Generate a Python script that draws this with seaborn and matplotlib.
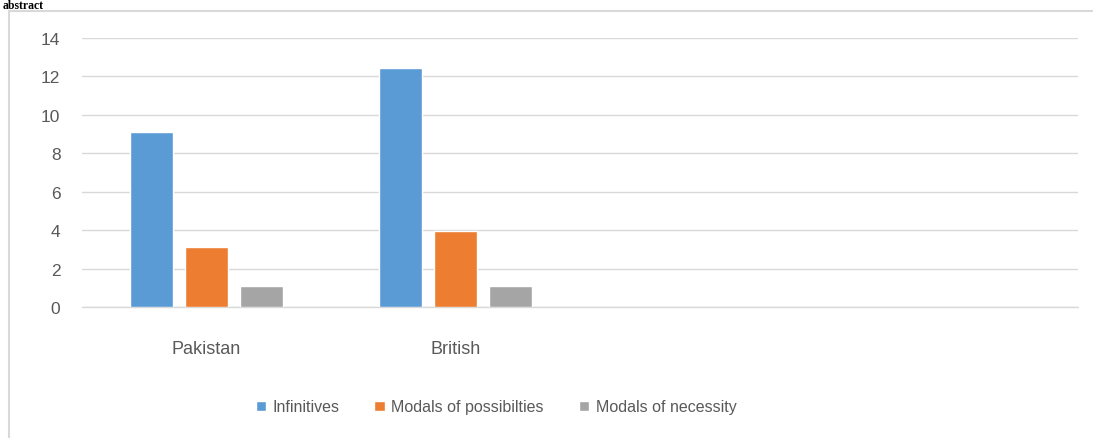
import matplotlib
matplotlib.use("Agg")
import matplotlib.pyplot as plt
import seaborn as sns
import pandas as pd
from matplotlib.patches import Rectangle

categories = ["Pakistan", "British"]
series = ["Infinitives", "Modals of possibilties", "Modals of necessity"]
infinitives = [9.1, 12.45]
modals_possibility = [3.1, 3.95]
modals_necessity = [1.1, 1.1]
colors = ["#5B9BD5", "#ED7D31", "#A5A5A5"]
yticks = [0, 2, 4, 6, 8, 10, 12, 14]

rows = []
for s, vals in zip(series, [infinitives, modals_possibility, modals_necessity]):
    for c, v in zip(categories, vals):
        rows.append({"cat": c, "series": s, "value": v})
df = pd.DataFrame(rows)

sns.set_theme(style="white")
plt.rcParams['font.family'] = ['Liberation Sans', 'DejaVu Sans']

fig = plt.figure(figsize=(10.93, 4.39), dpi=100)
ax = fig.add_axes([0.075, 0.2984, 0.911, 0.6127])

sns.barplot(data=df, x="cat", y="value", hue="series", order=categories,
            hue_order=series, palette=colors, width=0.663, gap=0.218,
            saturation=1, ax=ax, legend=True)

ax.set_xlim(-0.5, 3.5)
ax.set_ylim(0, 14)
ax.set_yticks(yticks)
ax.set_yticklabels([str(t) for t in yticks], fontsize=12.5, color="#595959")
ax.tick_params(axis="x", labelsize=13, labelcolor="#595959", pad=24, length=0)
ax.tick_params(axis="y", length=0, pad=15.5)
ax.set_xlabel("")
ax.set_ylabel("")
ax.yaxis.grid(True, color="#D9D9D9", linewidth=1)
ax.set_axisbelow(True)
for sp in ax.spines.values():
    sp.set_visible(False)
ax.axhline(0, color="#D9D9D9", linewidth=1, zorder=0.5, clip_on=False)

handles, labels = ax.get_legend_handles_labels()
ax.get_legend().remove()
fig.legend(handles, labels, loc="center", bbox_to_anchor=(496 / 1093, 1 - 408 / 439),
           ncol=3, frameon=False, fontsize=11.5, labelcolor="#595959",
           handlelength=0.65, handleheight=0.65, handletextpad=0.4, columnspacing=2.2)

# outer chart border (left/top visible, rest cut off)
fig.patches.append(Rectangle((9 / 1093, -0.05), 1.1, 1 - 12 / 439 + 0.05,
                             transform=fig.transFigure, fill=False,
                             edgecolor="#D9D9D9", linewidth=1.5))

fig.text(0.002, 0.999, "abstract", fontsize=8.5, fontweight="bold", va="top",
         ha="left", family=["Liberation Serif", "DejaVu Serif"], color="black")

fig.savefig("out.png", dpi=100, facecolor="white")
